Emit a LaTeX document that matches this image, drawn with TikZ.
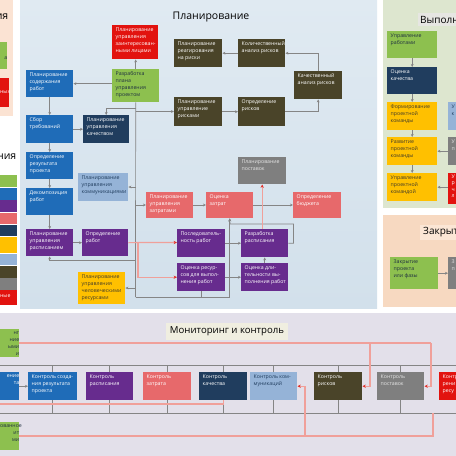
\documentclass[tikz,border=0pt]{standalone}
\usepackage{fontspec}
\setmainfont{Open Sans}
\usetikzlibrary{arrows.meta}
\definecolor{cGreen}{HTML}{8DC04F}
\definecolor{cBlue}{HTML}{1F6CB8}
\definecolor{cNavy}{HTML}{203D5E}
\definecolor{cRed}{HTML}{E2130F}
\definecolor{cPurple}{HTML}{672C8E}
\definecolor{cSal}{HTML}{E7696B}
\definecolor{cYel}{HTML}{FFC000}
\definecolor{cLBlue}{HTML}{95B3D7}
\definecolor{cOlive}{HTML}{4A4429}
\definecolor{cGray}{HTML}{7F7F7F}
\definecolor{tDark}{HTML}{1F2F40}
\definecolor{tYel}{HTML}{3F3A2A}
\definecolor{tGray}{HTML}{E6E6E6}
\definecolor{bgPlanT}{HTML}{E0EAF2}
\definecolor{bgPlanB}{HTML}{D2E0EB}
\definecolor{bgExec}{HTML}{DDE6CF}
\definecolor{bgClose}{HTML}{F7D9C1}
\definecolor{bgInit}{HTML}{FBE3D3}
\definecolor{bgMon}{HTML}{E3E0EA}
\definecolor{bgTitleMon}{HTML}{F0EEE0}
\definecolor{bgTitleEx}{HTML}{E6E6E2}
\definecolor{bgTitleCl}{HTML}{FBE6D5}
\definecolor{cLine}{HTML}{858585}
\definecolor{cSalLine}{HTML}{F0A09A}
\definecolor{cArrR}{HTML}{E0302A}
\newcommand\bt[3]{\parbox[t][#2pt][t]{#1pt}{\raggedright\leftskip=3.5pt\relax\vspace*{2.6pt}#3\par}}
\begin{document}
\begin{tikzpicture}[x=1pt,y=-1pt,
  bx/.style={inner sep=0pt, anchor=north west, text=white, font=\fontsize{5.2}{6.9}\selectfont},
  dk/.style={text=tDark},
  yk/.style={text=tYel},
  gk/.style={text=tGray},
  conn/.style={draw=cLine, line width=0.7pt, -{Stealth[length=3pt,width=2.8pt]}},
  lnk/.style={draw=cLine, line width=0.7pt},
  salc/.style={draw=cSalLine, line width=1.1pt, -{Stealth[length=3.4pt,width=3.2pt,color=cArrR]}},
  sall/.style={draw=cSalLine, line width=1.1pt},
  ttl/.style={inner sep=0pt, font=\fontsize{10.5}{12}\selectfont, text=black}
]
\clip (0,0) rectangle (456,456);
\fill[white] (0,0) rectangle (456,456);
% panels
\fill[bgInit] (0,0) rectangle (13,116);
\shade[top color=bgPlanT, bottom color=bgPlanB] (20,0) rectangle (377,308);
\fill[bgExec] (383,0) rectangle (456,208);
\fill[bgClose] (383,215) rectangle (456,307);
\fill[bgMon] (0,313) rectangle (456,456);
\fill[bgTitleEx] (418,13) rectangle (456,26);
\fill[bgTitleCl] (420,225) rectangle (456,240);
\fill[bgTitleMon] (166,323) rectangle (288,340);
% titles
\node[ttl, anchor=east] (tInit) at (8.5,17) {ния};
\node[ttl, anchor=east] (tLeg) at (16.5,157) {ния};
\node[ttl] (tPlan) at (211,17) {Планирование};
\node[ttl, anchor=west, font=\fontsize{10}{12}\selectfont] (tExec) at (420,19.5) {Выполн};
\node[ttl, anchor=west, font=\fontsize{10}{12}\selectfont] (tClose) at (423,232.5) {Закрыт};
\node[ttl, font=\fontsize{9.6}{11}\selectfont] (tMon) at (227,331.5) {Мониторинг и контроль};
% initiation fragments
\node[bx, fill=cGreen, dk] (iGreen) at (0,42) {\parbox[t][27pt][t]{7pt}{\raggedleft\vspace*{14pt}а\par}};
\node[bx, fill=cRed] (iRed) at (0,78) {\parbox[t][29pt][t]{9pt}{\raggedleft\vspace*{13pt}ных\par}};
% legend bars
\fill[cGreen] (0,175) rectangle (17,187);
\fill[cBlue] (0,188) rectangle (17,199.5);
\fill[cPurple] (0,200) rectangle (17,212);
\fill[cSal] (0,212.5) rectangle (17,224);
\fill[cNavy] (0,224.5) rectangle (17,236);
\fill[cYel] (0,236.5) rectangle (17,253);
\fill[cLBlue] (0,253.5) rectangle (17,265);
\fill[cOlive] (0,265.5) rectangle (17,277.5);
\fill[cGray] (0,278) rectangle (17,289.5);
\node[bx, fill=cRed] (legRed) at (0,290) {\parbox[t][15pt][t]{17pt}{\raggedright\vspace*{4pt}ные\par}};
% planning nodes
\node[bx, fill=cRed] (p1) at (112,25) {\bt{46}{34}{Планирование\\управления\\заинтересован-\\ными лицами}};
\node[bx, fill=cGreen, dk] (p2) at (112,69) {\bt{47}{33}{Разработка\\плана\\управления\\проектом}};
\node[bx, fill=cBlue] (p3) at (26,70) {\bt{47}{27}{Планирование\\содержания\\работ}};
\node[bx, fill=cBlue] (p4) at (26,115) {\bt{47}{28}{Сбор\\требований}};
\node[bx, fill=cNavy] (p5) at (83,115) {\bt{46}{28}{Планирование\\управления\\качеством}};
\node[bx, fill=cBlue] (p6) at (26,152) {\bt{47}{27}{Определение\\результата\\проекта}};
\node[bx, fill=cBlue] (p7) at (26,188) {\bt{47}{27}{Декомпозиция\\работ}};
\node[bx, fill=cLBlue, text=cNavy] (p8) at (78,173) {\bt{50}{28}{Планирование\\управления\\коммуникациями}};
\node[bx, fill=cPurple] (p9) at (26,229) {\bt{47}{27}{Планирование\\управления\\расписанием}};
\node[bx, fill=cPurple] (p10) at (82,229) {\bt{46}{27}{Определение\\работ}};
\node[bx, fill=cYel, yk] (p11) at (78,272) {\bt{47}{32}{Планирование\\управления\\человеческими\\ресурсами}};
\node[bx, fill=cSal] (p12) at (146,192) {\bt{47}{26}{Планирование\\управления\\затратами}};
\node[bx, fill=cSal] (p13) at (206,192) {\bt{47}{26}{Оценка\\затрат}};
\node[bx, fill=cSal] (p14) at (293,192) {\bt{48}{26}{Определение\\бюджета}};
\node[bx, fill=cGray, gk] (p15) at (238,157) {\bt{48}{27}{Планирование\\поставок}};
\node[bx, fill=cPurple] (p16) at (177,229) {\bt{48}{28}{Последователь-\\ность работ}};
\node[bx, fill=cPurple] (p17) at (241,229) {\bt{47}{28}{Разработка\\расписания}};
\node[bx, fill=cPurple] (p18) at (177,263) {\bt{48}{28}{Оценка ресур-\\сов для выпол-\\нения работ}};
\node[bx, fill=cPurple] (p19) at (241,263) {\bt{47}{28}{Оценка дли-\\тельности вы-\\полнения работ}};
\node[bx, fill=cOlive] (p20) at (174,39) {\bt{48}{28}{Планирование\\реагирования\\на риски}};
\node[bx, fill=cOlive] (p21) at (238,39) {\bt{47}{28}{Количественный\\анализ рисков}};
\node[bx, fill=cOlive] (p22) at (294,71) {\bt{48}{28}{Качественный\\анализ рисков}};
\node[bx, fill=cOlive] (p23) at (174,97) {\bt{48}{29}{Планирование\\управление\\рисками}};
\node[bx, fill=cOlive] (p24) at (238,97) {\bt{47}{29}{Определение\\рисков}};
% planning connectors
\coordinate (tr1) at (135.5,108);
\coordinate (tr2) at (135.5,111.5);
\coordinate (tr3) at (135.5,187);
\coordinate (tr4) at (135.5,205);
\coordinate (tr5) at (135.5,260);
\coordinate (tr6) at (135.5,288);
\coordinate (tr7) at (135.5,297);
\draw[conn] (p2.north) -- (p2.north |- p1.south);
\draw[conn] (p2.west |- p3.east) -- (p3.east);
\draw[lnk] (p2.south) -- (tr7);
\draw[conn] (p3.south) -- (p4.north);
\draw[conn] (p4.south) -- (p6.north);
\draw[conn] (p6.south) -- (p7.north);
\draw[conn] (p7.south) -- (p9.north);
\draw[conn] (p4.east) -- (p5.west);
\draw[conn] (tr1) -| (p5.north);
\draw[conn] (tr2) -- (tr2 -| p23.west);
\draw[conn] (p23.east) -- (p24.west);
\draw[conn] (p24.east) -| (p22.south);
\draw[conn] (p22.north) |- (p22.north |- p21.east) -- (p21.east);
\draw[conn] (p21.west) -- (p20.east);
\draw[conn] (tr3) -- (tr3 -| p8.east);
\draw[conn] (tr4) -- (tr4 -| p12.west);
\draw[conn] (p12.east |- tr4) -- (tr4 -| p13.west);
\draw[conn] (p13.east |- tr4) -- (tr4 -| p14.west);
\draw[conn] (tr5) -| (p9.south);
\draw[conn] (tr6) -- (tr6 -| p11.east);
\draw[conn] (tr7) -| (p13.south);
\draw[lnk] (p18.south) -- (p18.south |- tr7);
\draw[conn] (p9.east) -- (p10.west);
\draw[conn] (p16.east) -- (p16.east -| p17.west);
\draw[conn] (p18.east) -- (p18.east -| p19.west);
\draw[conn] (p19.north) -- (p17.south);
\draw[conn] (p17.east) -- ++(5,0) |- (230,224) -- (p13.south);
\coordinate (sb) at (138,242.5);
\draw[salc] (p10.east) -- (sb) -- (sb -| p16.west);
\draw[salc] (sb) |- (p18.west);
\draw[salc] (p15.south |- p17.north) -- (p15.south);
% execution
\node[bx, fill=cGreen, dk] (e1) at (387,31) {\bt{50}{27}{Управление\\работами}};
\node[bx, fill=cNavy] (e2) at (387,67) {\bt{50}{27}{Оценка\\качества}};
\node[bx, fill=cYel, yk] (e3) at (387,102) {\bt{50}{28}{Формирование\\проектной\\команды}};
\node[bx, fill=cYel, yk] (e4) at (387,137) {\bt{50}{28}{Развитие\\проектной\\команды}};
\node[bx, fill=cYel, yk] (e5) at (387,173) {\bt{50}{28}{Управление\\проектной\\командой}};
\node[bx, fill=cLBlue, text=cNavy] (e6) at (448,102) {\bt{12}{28}{У\\к}};
\node[bx, fill=cGray, gk] (e7) at (448,137) {\bt{12}{28}{У\\п}};
\node[bx, fill=cRed] (e8) at (448,173) {\parbox[t][31pt][t]{12pt}{\raggedright\leftskip=3.5pt\relax\vspace*{1.2pt}\fontsize{5.2}{6.6}\selectfont У\\р\\ч\\л\par}};
\draw[conn] (e1.south) -- (e2.north);
\draw[conn] (e2.south) -- (e3.north);
\draw[conn] (e3.south) -- (e4.north);
\draw[conn] (e4.south) -- (e5.north);
\draw[conn] (e7.west) -- (e4.east);
\draw[conn] (e8.west |- e5.east) -- (e5.east);
% closure
\node[bx, fill=cGreen, dk] (c1) at (390,257) {\bt{48}{32}{Закрытие\\проекта\\или фазы}};
\node[bx, fill=cGray, gk] (c2) at (448,257) {\bt{12}{32}{З\\п}};
\draw[conn] (c1.east) -- (c2.west);
% monitoring
\node[bx, fill=cGreen, dk] (m0) at (0,329) {\parbox[t][28pt][t]{19pt}{\raggedleft\vspace*{2.6pt}нг\\ние\\ыми\\и\par}};
\node[bx, fill=cBlue] (m1) at (0,372) {\parbox[t][28pt][t]{19pt}{\raggedleft\vspace*{2.6pt}ение\\та\par}};
\node[bx, fill=cBlue] (m2) at (28,372) {\bt{49}{28}{Контроль созда-\\ния результата\\проекта}};
\node[bx, fill=cPurple] (m3) at (86,372) {\bt{47}{28}{Контроль\\расписания}};
\node[bx, fill=cSal] (m4) at (143,372) {\bt{48}{28}{Контроль\\затрата}};
\node[bx, fill=cNavy] (m5) at (199,372) {\bt{48}{28}{Контроль\\качества}};
\node[bx, fill=cLBlue, text=cNavy] (m6) at (250,372) {\bt{47}{28}{Контроль ком-\\муникаций}};
\node[bx, fill=cOlive] (m7) at (314,372) {\bt{48}{28}{Контроль\\рисков}};
\node[bx, fill=cGray, gk] (m8) at (377,372) {\bt{47}{28}{Контроль\\поставок}};
\node[bx, fill=cRed] (m9) at (439,372) {\bt{20}{28}{Контр\\рени\\ресу}};
\node[bx, fill=cGreen, dk] (m10) at (0,422) {\parbox[t][28pt][t]{19pt}{\raggedleft\vspace*{2.6pt}ованное\\ит\\ми\par}};
% buses
\coordinate (busTL) at (0,365);
\coordinate (busTR) at (456,365);
\coordinate (busBL) at (0,413);
\coordinate (busBR) at (456,413);
\draw[lnk] (busTL) -- (busTR);
\draw[lnk] (busBL) -- (busBR);
\foreach \m in {m2,m3,m4,m5,m6,m7,m8}{
  \draw[lnk] (\m.north) -- (\m.north |- busTL);
  \draw[lnk] (\m.south) -- (\m.south |- busBL);
}
\draw[conn] (m1.east) -- (m2.west);
% salmon lines
\coordinate (sTop) at (431,343);
\coordinate (sMid) at (0,404);
\coordinate (sBot) at (433,436);
\draw[sall] (m0.east |- sTop) -- (sTop);
\draw[salc] (sTop) |- (m8.east);
\draw[salc] (370,343) |- (m7.east);
\draw[sall] (sMid) -| (m5.south);
\draw[sall] (m10.east |- sBot) -- (sBot) -- (433,413);
\draw[salc] (305,436) |- (m6.east);
\end{tikzpicture}
\end{document}
